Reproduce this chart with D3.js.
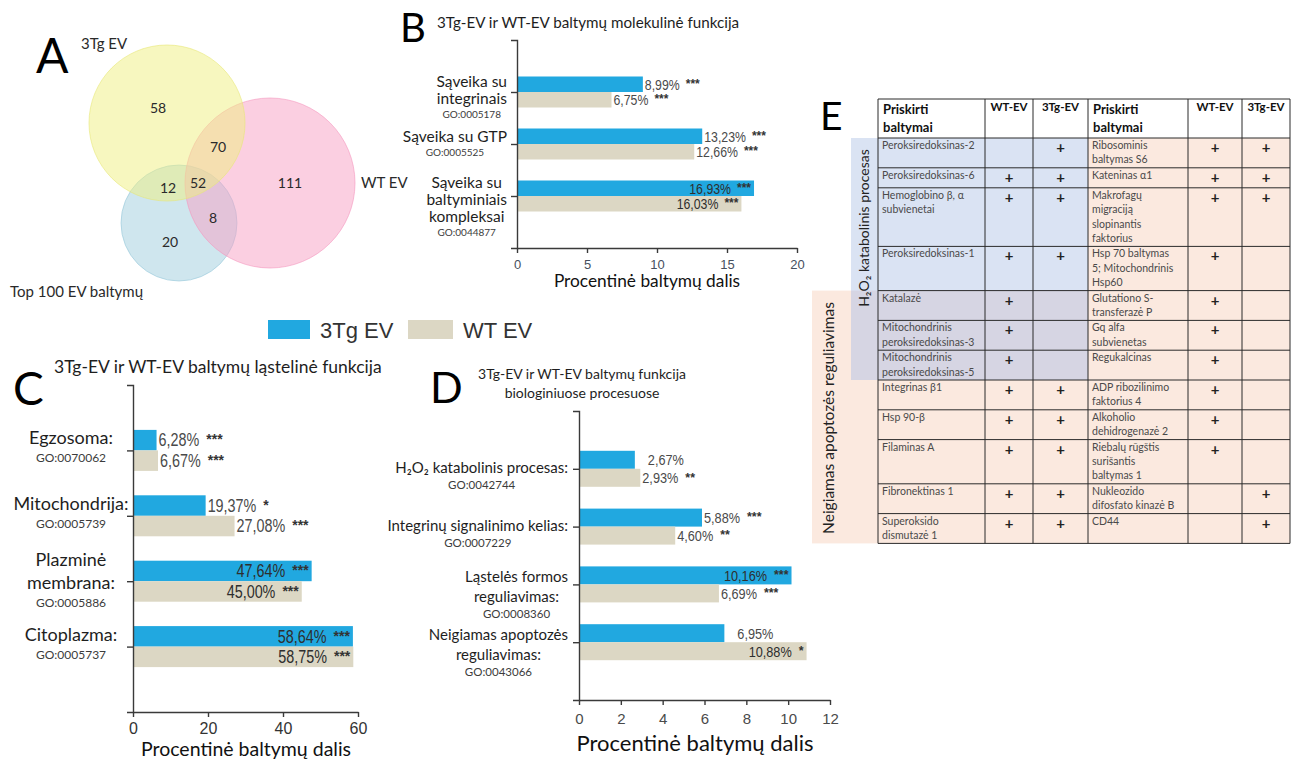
<!DOCTYPE html>
<html>
<head>
<meta charset="utf-8">
<script src="https://cdn.jsdelivr.net/npm/d3@7"></script>
<style>
  html, body { margin: 0; padding: 0; background: #fff; }
  svg { display: block; }
</style>
</head>
<body>
<svg id="fig" width="1298" height="759"></svg>
<script>
// ---------------- data ----------------
const seriesNames = ["3Tg EV", "WT EV"];

// A — Venn diagram counts
const vennSetNames = ["3Tg EV", "WT EV", "Top 100 EV baltymų"];
const vennRegionKeys = ["3Tg", "3Tg+WT", "3Tg+Top", "3Tg+WT+Top", "WT", "WT+Top", "Top"];
const vennCounts = [58, 70, 12, 52, 111, 8, 20];

// B — molecular function
const molTitle = ["3Tg-EV ir WT-EV baltymų molekulinė funkcija"];
const molCategories = [["Sąveika su", "integrinais"], ["Sąveika su GTP"], ["Sąveika su", "baltyminiais", "kompleksai"]];
const molGO = ["GO:0005178", "GO:0005525", "GO:0044877"];
const mol3Tg = [8.99, 13.23, 16.93];
const molWT = [6.75, 12.66, 16.03];
const mol3TgSig = ["***", "***", "***"];
const molWTSig = ["***", "***", "***"];
const molTicks = [0, 5, 10, 15, 20];

// C — cellular component
const cellTitle = ["3Tg-EV ir WT-EV baltymų ląstelinė funkcija"];
const cellCategories = [["Egzosoma:"], ["Mitochondrija:"], ["Plazminė", "membrana:"], ["Citoplazma:"]];
const cellGO = ["GO:0070062", "GO:0005739", "GO:0005886", "GO:0005737"];
const cell3Tg = [6.28, 19.37, 47.64, 58.64];
const cellWT = [6.67, 27.08, 45.00, 58.75];
const cell3TgSig = ["***", "*", "***", "***"];
const cellWTSig = ["***", "***", "***", "***"];
const cellTicks = [0, 20, 40, 60];

// D — biological process
const bioTitle = ["3Tg-EV ir WT-EV baltymų funkcija", "biologiniuose procesuose"];
const bioCategories = [["H₂O₂ katabolinis procesas:"], ["Integrinų signalinimo kelias:"], ["Ląstelės formos", "reguliavimas:"], ["Neigiamas apoptozės", "reguliavimas:"]];
const bioGO = ["GO:0042744", "GO:0007229", "GO:0008360", "GO:0043066"];
const bio3Tg = [2.67, 5.88, 10.16, 6.95];
const bioWT = [2.93, 4.60, 6.69, 10.88];
const bio3TgSig = ["", "***", "***", ""];
const bioWTSig = ["**", "**", "***", "*"];
const bioTicks = [0, 2, 4, 6, 8, 10, 12];

const axisTitle = "Procentinė baltymų dalis";

// E — protein table
const tableHeader = [["Priskirti", "baltymai"], ["WT-EV"], ["3Tg-EV"], ["Priskirti", "baltymai"], ["WT-EV"], ["3Tg-EV"]];
const tableLeftProteins = [
  ["Peroksiredoksinas-2"], ["Peroksiredoksinas-6"], ["Hemoglobino β, α", "subvienetai"], ["Peroksiredoksinas-1"],
  ["Katalazė"], ["Mitochondrinis", "peroksiredoksinas-3"], ["Mitochondrinis", "peroksiredoksinas-5"],
  ["Integrinas β1"], ["Hsp 90-β"], ["Filaminas A"], ["Fibronektinas 1"], ["Superoksido", "dismutazė 1"]
];
const tableLeftWT  = ["", "+", "+", "+", "+", "+", "+", "+", "+", "+", "+", "+"];
const tableLeft3Tg = ["+", "+", "+", "+", "", "", "", "+", "+", "+", "+", "+"];
const tableRightProteins = [
  ["Ribosominis", "baltymas S6"], ["Kateninas α1"], ["Makrofagų", "migraciją", "slopinantis", "faktorius"],
  ["Hsp 70 baltymas", "5; Mitochondrinis", "Hsp60"], ["Glutationo S-", "transferazė P"], ["Gq alfa", "subvienetas"],
  ["Regukalcinas"], ["ADP ribozilinimo", "faktorius 4"], ["Alkoholio", "dehidrogenazė 2"],
  ["Riebalų rūgštis", "surišantis", "baltymas 1"], ["Nukleozido", "difosfato kinazė B"], ["CD44"]
];
const tableRightWT  = ["+", "+", "+", "+", "+", "+", "+", "+", "+", "+", "", ""];
const tableRight3Tg = ["+", "+", "+", "", "", "", "", "", "", "", "+", "+"];
const groupNames = ["H₂O₂ katabolinis procesas", "Neigiamas apoptozės reguliavimas"];
const h2o2Rows = [0, 1, 2, 3, 4, 5, 6];
const apoptosisRows = [4, 5, 6, 7, 8, 9, 10, 11];

// ---------------- styles ----------------
const HUM = "Lato, 'Open Sans', 'Noto Sans', sans-serif";
const SANS = "'Liberation Sans', Arial, sans-serif";
const NARROW_SCALE = 0.82;   // condensed look for the value labels
const BLUE = "#21a8e0";
const BEIGE = "#dcd7c4";
const ltFmt = d3.formatLocale({ decimal: ",", thousands: " ", grouping: [3], currency: ["", " €"] }).format(".2f");

const svg = d3.select("#fig");
svg.append("rect").attr("width", 1298).attr("height", 759).attr("fill", "#fff");

function panelLetter(txt, x, y, size) {
  svg.append("text").attr("x", x).attr("y", y).attr("font-family", HUM)
    .attr("font-size", size).attr("fill", "#000").text(txt);
}

// ---------------- A: Venn ----------------
(function venn() {
  const g = svg.append("g");
  const circles = [
    { set: 2, cx: 179, cy: 223, r: 58, fill: "rgb(160,205,222)", stroke: "rgb(150,200,218)" },
    { set: 1, cx: 270, cy: 183, r: 85, fill: "rgb(248,160,196)", stroke: "rgb(245,150,190)" },
    { set: 0, cx: 167, cy: 123, r: 78, fill: "rgb(240,240,128)", stroke: "rgb(232,232,120)" }
  ];
  g.selectAll("circle").data(circles).join("circle")
    .attr("cx", d => d.cx).attr("cy", d => d.cy).attr("r", d => d.r)
    .attr("fill", d => d.fill).attr("fill-opacity", 0.5)
    .attr("stroke", d => d.stroke).attr("stroke-opacity", 0.6).attr("stroke-width", 1);

  const regionPos = {
    "3Tg": [158, 113], "3Tg+WT": [218, 152], "3Tg+Top": [168, 193], "3Tg+WT+Top": [198, 188],
    "WT": [290, 188], "WT+Top": [213, 223], "Top": [170, 247]
  };
  g.selectAll("text.cnt").data(vennRegionKeys).join("text").attr("class", "cnt")
    .attr("x", k => regionPos[k][0]).attr("y", k => regionPos[k][1])
    .attr("text-anchor", "middle").attr("font-family", HUM).attr("font-size", 14).attr("fill", "#2a2a2a")
    .text((k, i) => vennCounts[i]);

  const setLabelPos = [[81, 49], [361, 188], [10, 297]];
  vennSetNames.forEach((n, i) => {
    g.append("text").attr("x", setLabelPos[i][0]).attr("y", setLabelPos[i][1])
      .attr("font-family", HUM).attr("font-size", 15).attr("fill", "#2a2a2a").text(n);
  });
  panelLetter("A", 36, 73, 48);
})();

// ---------------- legend ----------------
(function legend() {
  const g = svg.append("g");
  const items = [{ x: 268, w: 42, c: BLUE, tx: 320 }, { x: 408, w: 45, c: BEIGE, tx: 463 }];
  items.forEach((it, i) => {
    g.append("rect").attr("x", it.x).attr("y", 320).attr("width", it.w).attr("height", 19).attr("fill", it.c);
    g.append("text").attr("x", it.tx).attr("y", 338).attr("font-family", SANS)
      .attr("font-size", 22).attr("fill", "#333").text(seriesNames[i]);
  });
})();

// ---------------- bar panels ----------------
function barPanel(cfg) {
  const g = svg.append("g");
  const n = cfg.cats.length;
  const x = d3.scaleLinear().domain([0, cfg.max]).range([cfg.left, cfg.right]);
  const y = d3.scalePoint().domain(d3.range(n)).range([cfg.top, cfg.bottom]).padding(1);
  const series = [
    { vals: cfg.v3, sig: cfg.s3, color: BLUE, off: -cfg.barH },
    { vals: cfg.vw, sig: cfg.sw, color: BEIGE, off: 0 }
  ];

  // bars
  series.forEach(s => {
    g.selectAll(null).data(s.vals).join("rect")
      .attr("x", x(0)).attr("y", (d, i) => y(i) + s.off)
      .attr("width", d => x(d) - x(0)).attr("height", cfg.barH)
      .attr("fill", s.color);
  });

  // value labels with significance stars
  series.forEach(s => {
    s.vals.forEach((v, i) => {
      const yMid = y(i) + s.off + cfg.barH / 2;
      const base = yMid + cfg.labelSize * 0.36;
      const inside = v / cfg.max > 0.7;
      const t = g.append("text").attr("font-family", SANS).attr("font-size", cfg.labelSize)
        .attr("fill", inside ? "#2e2e2e" : "#4a4a4a").attr("y", base).text(ltFmt(v) + "%");
      const tw = t.node().getComputedTextLength() * NARROW_SCALE;
      t.attr("textLength", tw).attr("lengthAdjust", "spacingAndGlyphs");
      const st = g.append("text").attr("font-family", SANS).attr("font-size", cfg.labelSize * 0.8)
        .attr("font-weight", "bold").attr("fill", "#333").attr("y", base - cfg.labelSize * 0.12).text(s.sig[i]);
      const sw = s.sig[i] ? st.node().getComputedTextLength() : 0;
      if (inside) {
        const sx = x(v) - 3 - sw;
        st.attr("x", sx);
        t.attr("x", sx - (s.sig[i] ? cfg.starGap : 0) - tw);
      } else {
        const tx = x(v) + (s.sig[i] ? 2 : 13);
        t.attr("x", tx);
        st.attr("x", tx + tw + cfg.starGap);
      }
    });
  });

  // axes
  const ya = g.append("g").attr("transform", `translate(${x(0)},0)`)
    .call(d3.axisLeft(y).tickSize(6).tickSizeOuter(6).tickFormat(""));
  const xa = g.append("g").attr("transform", `translate(0,${cfg.bottom})`)
    .call(d3.axisBottom(x).tickValues(cfg.ticks).tickSizeInner(5).tickSizeOuter(0).tickPadding(cfg.tickPad));
  [ya, xa].forEach(a => {
    a.selectAll("path, line").attr("stroke", "#3a3a3a").attr("stroke-width", 1.4);
  });
  xa.selectAll("text").attr("font-family", SANS).attr("font-size", cfg.tickSize).attr("fill", cfg.tickColor);

  // category labels
  cfg.cats.forEach((lines, i) => {
    const cg = g.append("g");
    const first = y(i) + cfg.catFirst - cfg.catStep * (lines.length - 1);
    const texts = [];
    lines.forEach((ln, j) => {
      texts.push(cg.append("text").attr("y", first + j * cfg.catLine)
        .attr("font-family", HUM).attr("font-size", cfg.catSize).attr("fill", "#1e1e1e").text(ln));
    });
    texts.push(cg.append("text").attr("y", first + (lines.length - 1) * cfg.catLine + cfg.goGap)
      .attr("font-family", HUM).attr("font-size", cfg.goSize).attr("fill", "#3c3c3c").text(cfg.go[i]));
    let cx = cfg.catCenter;
    if (cfg.catRight !== undefined) {
      const w = d3.max(texts, t => t.node().getComputedTextLength());
      cx = cfg.catRight - w / 2;
    }
    texts.forEach(t => t.attr("x", cx).attr("text-anchor", "middle"));
  });

  // title
  cfg.title.forEach((ln, j) => {
    g.append("text").attr("x", cfg.titleX).attr("y", cfg.titleY + j * cfg.titleLine)
      .attr("text-anchor", cfg.titleAnchor).attr("font-family", HUM).attr("font-size", cfg.titleSize)
      .attr("fill", "#1e1e1e").text(ln);
  });

  // axis title
  g.append("text").attr("x", cfg.axTitleX).attr("y", cfg.axTitleY).attr("text-anchor", "middle")
    .attr("font-family", HUM).attr("font-size", cfg.axTitleSize).attr("fill", "#111").text(axisTitle);
}

barPanel({
  cats: molCategories, go: molGO, v3: mol3Tg, vw: molWT, s3: mol3TgSig, sw: molWTSig,
  ticks: molTicks, max: 20, left: 517, right: 797, top: 40, bottom: 248, barH: 15.5,
  labelSize: 15, starGap: 6, tickSize: 13, tickColor: "#46505e", tickPad: 7,
  catSize: 15.5, goSize: 10, catFirst: -2, catStep: 3, catLine: 17, goGap: 14, catRight: 507,
  title: molTitle, titleX: 437, titleY: 28, titleLine: 0, titleSize: 15.2, titleAnchor: "start",
  axTitleX: 647, axTitleY: 287, axTitleSize: 17.3
});
panelLetter("B", 400, 42, 40);

barPanel({
  cats: cellCategories, go: cellGO, v3: cell3Tg, vw: cellWT, s3: cell3TgSig, sw: cellWTSig,
  ticks: cellTicks, max: 60, left: 133, right: 358, top: 385, bottom: 712, barH: 20.5,
  labelSize: 17.5, starGap: 7, tickSize: 16, tickColor: "#333", tickPad: 6,
  catSize: 18, goSize: 12, catFirst: -6, catStep: 9, catLine: 23, goGap: 18, catCenter: 71,
  title: cellTitle, titleX: 54, titleY: 373, titleLine: 0, titleSize: 17.5, titleAnchor: "start",
  axTitleX: 246, axTitleY: 755.5, axTitleSize: 19.5
});
panelLetter("C", 13, 405, 46);

barPanel({
  cats: bioCategories, go: bioGO, v3: bio3Tg, vw: bioWT, s3: bio3TgSig, sw: bioWTSig,
  ticks: bioTicks, max: 12, left: 579, right: 830, top: 411, bottom: 700, barH: 18,
  labelSize: 15.5, starGap: 7, tickSize: 15, tickColor: "#4a4a4a", tickPad: 8,
  catSize: 15, goSize: 11.5, catFirst: 4, catStep: 6, catLine: 20, goGap: 16, catRight: 568,
  title: bioTitle, titleX: 582, titleY: 379, titleLine: 19, titleSize: 14, titleAnchor: "middle",
  axTitleX: 695, axTitleY: 751, axTitleSize: 22
});
panelLetter("D", 430, 403, 43);

// ---------------- E: table ----------------
(function table() {
  const g = svg.append("g");
  const colX = [878, 985, 1033, 1088, 1188, 1242, 1290];
  const top = 99, headBottom = 138, lineH = 14.4;
  const BLUE_BG = "#dae3f3", PEACH_BG = "#fbe9df", MIX_BG = "#d6d5e3";

  const rows = tableLeftProteins.map((l, i) => {
    const nLines = Math.max(l.length, tableRightProteins[i].length);
    return { i, h: Math.max(20, nLines * lineH + 1) };
  });
  let yy = headBottom;
  rows.forEach(r => { r.y0 = yy; yy += r.h; r.y1 = yy; });
  const bottom = yy;

  const h2o2Top = rows[d3.min(h2o2Rows)].y0, h2o2Bot = rows[d3.max(h2o2Rows)].y1;
  const apoTop = rows[d3.min(apoptosisRows)].y0, apoBot = rows[d3.max(apoptosisRows)].y1;
  const blueLeft = 851, peachLeft = 812;

  // group shading
  g.append("rect").attr("x", colX[3]).attr("y", headBottom).attr("width", colX[6] - colX[3])
    .attr("height", bottom - headBottom).attr("fill", PEACH_BG);
  g.append("rect").attr("x", peachLeft).attr("y", apoTop).attr("width", colX[3] - peachLeft)
    .attr("height", apoBot - apoTop).attr("fill", PEACH_BG);
  g.append("rect").attr("x", blueLeft).attr("y", h2o2Top).attr("width", colX[3] - blueLeft)
    .attr("height", h2o2Bot - h2o2Top).attr("fill", BLUE_BG);
  const ovTop = Math.max(h2o2Top, apoTop), ovBot = Math.min(h2o2Bot, apoBot);
  if (ovBot > ovTop) {
    g.append("rect").attr("x", blueLeft).attr("y", ovTop).attr("width", colX[3] - blueLeft)
      .attr("height", ovBot - ovTop).attr("fill", MIX_BG);
  }
  g.append("rect").attr("x", colX[0]).attr("y", top).attr("width", colX[6] - colX[0])
    .attr("height", headBottom - top).attr("fill", "#fff");

  // group labels (rotated)
  g.append("text").attr("transform", `translate(869,228) rotate(-90)`).attr("text-anchor", "middle")
    .attr("font-family", HUM).attr("font-size", 14).attr("fill", "#222").text(groupNames[0]);
  g.append("text").attr("transform", `translate(834,418) rotate(-90)`).attr("text-anchor", "middle")
    .attr("font-family", HUM).attr("font-size", 15.5).attr("fill", "#222").text(groupNames[1]);

  // header
  tableHeader.forEach((lines, c) => {
    const isName = lines.length > 1;
    lines.forEach((ln, j) => {
      g.append("text")
        .attr("x", isName ? colX[c] + 5 : (colX[c] + colX[c + 1]) / 2)
        .attr("y", isName ? 114 + j * 18 : 111)
        .attr("text-anchor", isName ? "start" : "middle")
        .attr("font-family", HUM).attr("font-weight", "bold")
        .attr("font-size", isName ? 13 : 11.5).attr("fill", "#111").text(ln);
    });
  });

  // cells
  const cellText = (lines, cx, r) => {
    lines.forEach((ln, j) => {
      g.append("text").attr("x", cx + 4).attr("y", r.y0 + 11 + j * lineH)
        .attr("font-family", HUM).attr("font-size", 10.5).attr("fill", "#4a4a4a").text(ln);
    });
  };
  const plus = (mark, c, r) => {
    if (!mark) return;
    g.append("text").attr("x", (colX[c] + colX[c + 1]) / 2).attr("y", r.y0 + 15)
      .attr("text-anchor", "middle").attr("font-family", HUM).attr("font-weight", "bold")
      .attr("font-size", 15).attr("fill", "#222").text(mark);
  };
  rows.forEach(r => {
    cellText(tableLeftProteins[r.i], colX[0], r);
    plus(tableLeftWT[r.i], 1, r);
    plus(tableLeft3Tg[r.i], 2, r);
    cellText(tableRightProteins[r.i], colX[3], r);
    plus(tableRightWT[r.i], 4, r);
    plus(tableRight3Tg[r.i], 5, r);
  });

  // grid lines
  const hy = [top, headBottom].concat(rows.map(r => r.y1));
  g.selectAll("line.h").data(hy).join("line").attr("class", "h")
    .attr("x1", colX[0]).attr("x2", colX[6]).attr("y1", d => d).attr("y2", d => d)
    .attr("stroke", "#2b2b2b").attr("stroke-width", 1);
  g.selectAll("line.v").data(colX).join("line").attr("class", "v")
    .attr("x1", d => d).attr("x2", d => d).attr("y1", top).attr("y2", bottom)
    .attr("stroke", "#2b2b2b").attr("stroke-width", 1);

  panelLetter("E", 820, 130, 39);
})();
</script>
</body>
</html>
